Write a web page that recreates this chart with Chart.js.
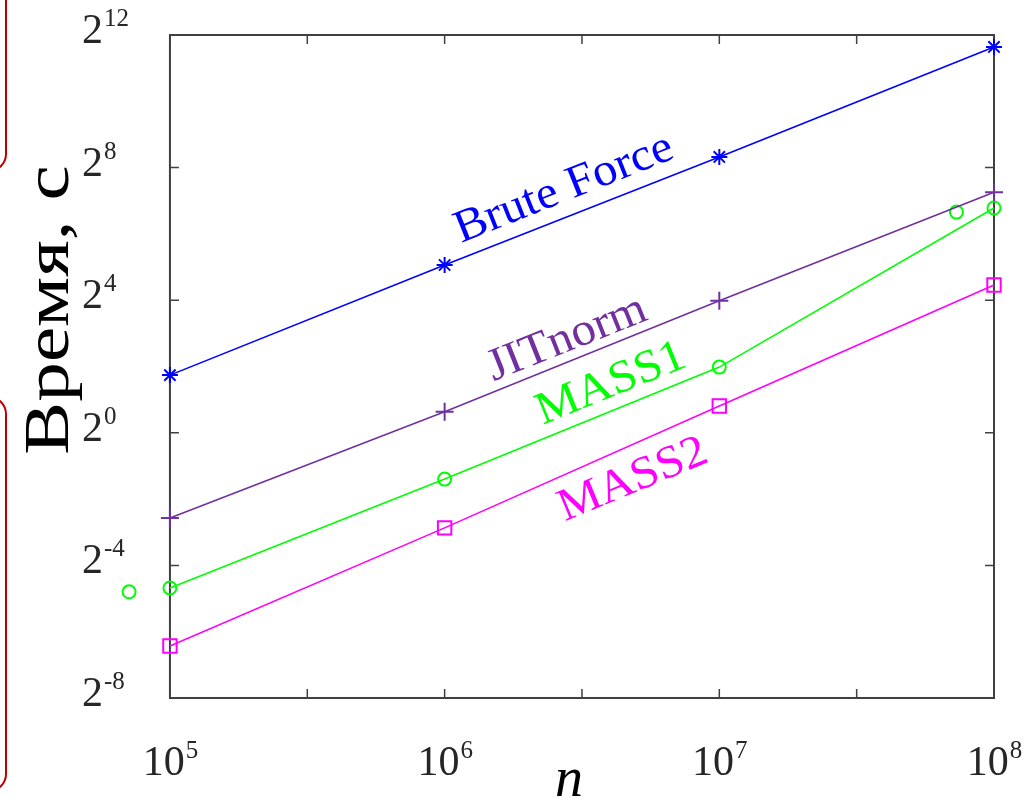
<!DOCTYPE html>
<html>
<head>
<meta charset="utf-8">
<script src="https://cdn.jsdelivr.net/npm/chart.js@4.4.1/dist/chart.umd.min.js"></script>
<style>
  html, body { margin: 0; padding: 0; background: #fff; overflow: hidden; }
  #wrap { position: relative; width: 1024px; height: 805px; }
  .redbox { position: absolute; border: 2px solid #c00000; border-radius: 18px; }
</style>
</head>
<body>
<div id="wrap">
  <div class="redbox" style="left:-40px; top:-30px; width:43px; height:198px;"></div>
  <div class="redbox" style="left:-40px; top:396px; width:43px; height:392px;"></div>
  <canvas id="time-chart" width="1024" height="805"></canvas>
</div>
<script>
// problem sizes and run times (seconds)
const nValues = [1e5, 1e6, 1e7, 1e8];
const bruteForce = [3.34, 33.4, 320, 3190];
const jitNorm = [0.168, 1.55, 15.8, 153];
const mass1 = [0.039, 0.38, 3.95, 110];
const mass2 = [0.0116, 0.137, 1.75, 22];
// two loose MASS1 markers off the line
const mass1ExtraN = [7.1e4, 7.3e7];
const mass1Extra = [0.036, 101];

const xTickPowers = [5, 6, 7, 8];
const yTickPowers = [-8, -4, 0, 4, 8, 12];

const seriesLabels = ["Brute Force", "JITnorm", "MASS1", "MASS2"];

const BLUE = "#0000ff";
const PURPLE = "#7030a0";
const GREEN = "#00ff00";
const MAGENTA = "#ff00ff";
const AXIS = "#404040";
const SERIF = "'Liberation Serif', 'Times New Roman', serif";

// the axes box starts at 1e5, the scale a bit earlier so the stray marker shows
const X_MIN = Math.pow(10, 4.8);
const X_BOX = [1e5, 1e8];

function toPoints(xs, ys) {
  return xs.map((x, i) => ({ x: x, y: ys[i] }));
}

function lineSet(label, ys, color, style, radius) {
  return {
    label: label,
    data: toPoints(nValues, ys),
    borderColor: color,
    backgroundColor: "rgba(0,0,0,0)",
    pointBorderColor: color,
    pointBackgroundColor: "rgba(0,0,0,0)",
    pointStyle: style,
    pointRadius: radius,
    pointBorderWidth: 2,
    borderWidth: 1.6,
    tension: 0,
    clip: false,
  };
}

// in-chart text labels along the lines
const lineNotes = [
  { text: seriesLabels[0], color: BLUE, x: 564, y: 189, angle: -21.7 },
  { text: seriesLabels[1], color: PURPLE, x: 567, y: 339, angle: -21.7 },
  { text: seriesLabels[2], color: GREEN, x: 611, y: 384, angle: -22 },
  { text: seriesLabels[3], color: MAGENTA, x: 633, y: 480, angle: -22.5 },
];

function drawPower(ctx, base, power, x, y, align) {
  const baseFont = "42px " + SERIF;
  const supFont = "25px " + SERIF;
  const sup = String(power);
  ctx.font = baseFont;
  const bw = ctx.measureText(base).width;
  ctx.font = supFont;
  const sw = ctx.measureText(sup).width;
  let left = x;
  if (align === "center") left = x - (bw + sw) / 2;
  ctx.textAlign = "left";
  ctx.textBaseline = "alphabetic";
  ctx.font = baseFont;
  ctx.fillText(base, left, y);
  ctx.font = supFont;
  ctx.fillText(sup, left + bw + 1, y - 17);
}

const axesPlugin = {
  id: "matlabAxes",
  beforeDatasetsDraw(chart) {
    const ctx = chart.ctx;
    const a = chart.chartArea;
    const xs = chart.scales.x;
    const ys = chart.scales.y;
    const left = xs.getPixelForValue(X_BOX[0]);
    const right = xs.getPixelForValue(X_BOX[1]);
    ctx.save();
    ctx.strokeStyle = AXIS;
    ctx.lineWidth = 2;
    ctx.strokeRect(left, a.top, right - left, a.bottom - a.top);
    ctx.lineWidth = 1.5;
    ctx.beginPath();
    // x ticks every half decade, inward on bottom and top
    for (let p = 5; p <= 8; p += 0.5) {
      const px = xs.getPixelForValue(Math.pow(10, p));
      ctx.moveTo(px, a.bottom);
      ctx.lineTo(px, a.bottom - 9);
      ctx.moveTo(px, a.top);
      ctx.lineTo(px, a.top + 9);
    }
    // y ticks, inward on left and right
    yTickPowers.forEach((p) => {
      const py = ys.getPixelForValue(Math.pow(2, p));
      ctx.moveTo(left, py);
      ctx.lineTo(left + 9, py);
      ctx.moveTo(right, py);
      ctx.lineTo(right - 9, py);
    });
    ctx.stroke();
    ctx.restore();
  },
  afterDraw(chart) {
    const ctx = chart.ctx;
    const xs = chart.scales.x;
    const ys = chart.scales.y;
    ctx.save();
    ctx.fillStyle = "#262626";
    yTickPowers.forEach((p) => {
      const py = ys.getPixelForValue(Math.pow(2, p));
      drawPower(ctx, "2", p, 82, py + 8);
    });
    xTickPowers.forEach((p) => {
      const px = xs.getPixelForValue(Math.pow(10, p));
      drawPower(ctx, "10", p, px, 775, "center");
    });

    // axis titles
    ctx.fillStyle = "#000";
    ctx.font = "italic 56px " + SERIF;
    ctx.textAlign = "center";
    ctx.textBaseline = "alphabetic";
    ctx.fillText("n", 569, 796);

    ctx.save();
    ctx.translate(68, 310);
    ctx.rotate(-Math.PI / 2);
    ctx.scale(1.24, 1);
    ctx.font = "64px " + SERIF;
    ctx.fillText("Время, с", 0, 0);
    ctx.restore();

    // line labels
    lineNotes.forEach((n) => {
      ctx.save();
      ctx.translate(n.x, n.y);
      ctx.rotate((n.angle * Math.PI) / 180);
      ctx.scale(1.06, 1);
      ctx.font = "46px " + SERIF;
      ctx.fillStyle = n.color;
      ctx.textAlign = "center";
      ctx.textBaseline = "middle";
      ctx.fillText(n.text, 0, 0);
      ctx.restore();
    });
    ctx.restore();
  },
};

const timeChartCtx = document.getElementById("time-chart").getContext("2d");
new Chart(timeChartCtx, {
  type: "line",
  data: {
    datasets: [
      lineSet(seriesLabels[0], bruteForce, BLUE, "star", 8),
      lineSet(seriesLabels[1], jitNorm, PURPLE, "cross", 9),
      lineSet(seriesLabels[2], mass1, GREEN, "circle", 6.5),
      lineSet(seriesLabels[3], mass2, MAGENTA, "rect", 9.5),
      {
        label: "MASS1 extra",
        data: toPoints(mass1ExtraN, mass1Extra),
        showLine: false,
        pointStyle: "circle",
        pointRadius: 6.5,
        pointBorderWidth: 2,
        pointBorderColor: GREEN,
        pointBackgroundColor: "rgba(0,0,0,0)",
        clip: false,
      },
    ],
  },
  options: {
    responsive: false,
    animation: false,
    layout: { padding: { left: 115, right: 30, top: 35, bottom: 107 } },
    plugins: { legend: { display: false }, tooltip: { enabled: false } },
    scales: {
      x: { type: "logarithmic", min: X_MIN, max: 1e8, display: false },
      y: { type: "logarithmic", min: Math.pow(2, -8), max: Math.pow(2, 12), display: false },
    },
  },
  plugins: [axesPlugin],
});
</script>
</body>
</html>
